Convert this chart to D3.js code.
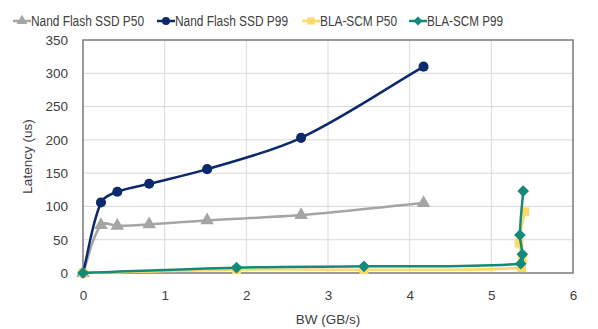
<!DOCTYPE html>
<html>
<head>
<meta charset="utf-8">
<script src="https://cdn.jsdelivr.net/npm/d3@7"></script>
<style>
  body { margin: 0; background: #fff; }
  svg text { font-family: "Liberation Sans", Arial, sans-serif; fill: #404040; }
</style>
</head>
<body>
<svg width="598" height="329"></svg>
<script>
  // Data
  const seriesNames = ["Nand Flash SSD P50", "Nand Flash SSD P99", "BLA-SCM P50", "BLA-SCM P99"];
  const nandP50 = [[0, 0], [0.22, 72], [0.42, 71], [0.81, 73], [1.52, 79], [2.67, 87], [4.17, 105]];
  const nandP99 = [[0, 0], [0.22, 106], [0.42, 122], [0.81, 134], [1.52, 156], [2.67, 203], [4.17, 310]];
  const scmP50 = [[0, 0], [1.88, 5], [3.44, 5], [5.37, 8], [5.38, 22], [5.34, 45], [5.41, 92]];
  const scmP99 = [[0, 0], [1.88, 8], [3.44, 10], [5.36, 14], [5.38, 28], [5.35, 57], [5.39, 123]];
  const xTicks = [0, 1, 2, 3, 4, 5, 6];
  const yTicks = [0, 50, 100, 150, 200, 250, 300, 350];

  const svg = d3.select("svg"),
      width = +svg.attr("width"),
      height = +svg.attr("height");

  const margin = {left: 83, right: 25, top: 40, bottom: 56};

  const x = d3.scaleLinear().domain([0, 6]).range([margin.left, width - margin.right]);
  const y = d3.scaleLinear().domain([0, 350]).range([height - margin.bottom, margin.top]);

  // gridlines
  svg.append("g")
      .selectAll("line")
      .data(xTicks)
      .join("line")
      .attr("x1", d => x(d)).attr("x2", d => x(d))
      .attr("y1", y(0)).attr("y2", y(350))
      .attr("stroke", "#d9d9d9");
  svg.append("g")
      .selectAll("line")
      .data(yTicks)
      .join("line")
      .attr("x1", x(0)).attr("x2", x(6))
      .attr("y1", d => y(d)).attr("y2", d => y(d))
      .attr("stroke", "#d9d9d9");

  // plot frame
  svg.append("rect")
      .attr("x", x(0)).attr("y", y(350))
      .attr("width", x(6) - x(0)).attr("height", y(0) - y(350))
      .attr("fill", "none")
      .attr("stroke", "#7f7f7f")
      .attr("stroke-width", 1.5);

  // axes
  const xAxis = svg.append("g")
      .attr("transform", `translate(0,${y(0)})`)
      .call(d3.axisBottom(x).tickValues(xTicks).tickFormat(d3.format("d")).tickSize(0).tickPadding(17));
  const yAxis = svg.append("g")
      .attr("transform", `translate(${x(0)},0)`)
      .call(d3.axisLeft(y).tickValues(yTicks).tickFormat(d3.format("d")).tickSize(0).tickPadding(15));
  [xAxis, yAxis].forEach(a => {
    a.select(".domain").remove();
    a.selectAll("text").style("font-size", "13.5px").attr("fill", "#404040")
        .attr("font-family", "Liberation Sans, Arial, sans-serif");
  });

  svg.append("text")
      .attr("x", x(3)).attr("y", 324)
      .attr("text-anchor", "middle")
      .style("font-size", "13.5px")
      .text("BW (GB/s)");
  svg.append("text")
      .attr("transform", `translate(32,${(y(0) + y(350)) / 2}) rotate(-90)`)
      .attr("text-anchor", "middle")
      .style("font-size", "13.5px")
      .text("Latency (us)");

  const series = [
    {name: seriesNames[0], data: nandP50, color: "#a5a5a5", marker: "triangle", tw: 113},
    {name: seriesNames[1], data: nandP99, color: "#0c2a6b", marker: "circle", tw: 113},
    {name: seriesNames[2], data: scmP50, color: "#ffd966", marker: "square", tw: 77},
    {name: seriesNames[3], data: scmP99, color: "#138a7a", marker: "diamond", tw: 76}
  ];

  const symbolOf = {
    triangle: s => d3.symbol().type(d3.symbolTriangle).size(s)(),
    circle: s => d3.symbol().type(d3.symbolCircle).size(s)(),
    square: s => d3.symbol().type(d3.symbolSquare).size(s)(),
    diamond: s => d3.symbol().type(d3.symbolSquare).size(s * 0.85)()
  };
  const rotOf = m => m === "diamond" ? " rotate(45)" : "";

  // Excel-like smoothed line: tangent along neighbours, scaled by segment length
  function smoothPath(data) {
    const p = data.map(d => [x(d[0]), y(d[1])]);
    const n = p.length;
    const dir = p.map((q, i) => {
      const a = p[Math.max(0, i - 1)], b = p[Math.min(n - 1, i + 1)];
      const dx = b[0] - a[0], dy = b[1] - a[1], l = Math.hypot(dx, dy) || 1;
      return [dx / l, dy / l];
    });
    const path = d3.path();
    path.moveTo(p[0][0], p[0][1]);
    for (let i = 0; i < n - 1; i++) {
      const a = p[i], b = p[i + 1];
      const len = Math.hypot(b[0] - a[0], b[1] - a[1]) / 3;
      path.bezierCurveTo(a[0] + dir[i][0] * len, a[1] + dir[i][1] * len,
          b[0] - dir[i + 1][0] * len, b[1] - dir[i + 1][1] * len, b[0], b[1]);
    }
    return path.toString();
  }

  series.forEach(s => {
    const g = svg.append("g");
    g.append("path")
        .attr("d", smoothPath(s.data))
        .attr("fill", "none")
        .attr("stroke", s.color)
        .attr("stroke-width", 2.5);
    g.selectAll("path.m")
        .data(s.data)
        .join("path")
        .attr("class", "m")
        .attr("transform", d => `translate(${x(d[0])},${y(d[1])})` + rotOf(s.marker))
        .attr("d", symbolOf[s.marker](80))
        .attr("fill", s.color);
  });

  // legend
  const legendX = [13, 157, 302, 409];
  const legend = svg.append("g")
      .selectAll("g")
      .data(series)
      .join("g")
      .attr("transform", (d, i) => `translate(${legendX[i]},21)`);
  legend.append("line")
      .attr("x1", 0).attr("x2", 18)
      .attr("stroke", d => d.color)
      .attr("stroke-width", 2.5);
  legend.append("path")
      .attr("transform", d => "translate(9,0)" + rotOf(d.marker))
      .attr("d", d => symbolOf[d.marker](50))
      .attr("fill", d => d.color);
  legend.append("text")
      .attr("x", 18).attr("y", 5)
      .style("font-size", "14px")
      .attr("textLength", d => d.tw)
      .attr("lengthAdjust", "spacingAndGlyphs")
      .text(d => d.name);
</script>
</body>
</html>
